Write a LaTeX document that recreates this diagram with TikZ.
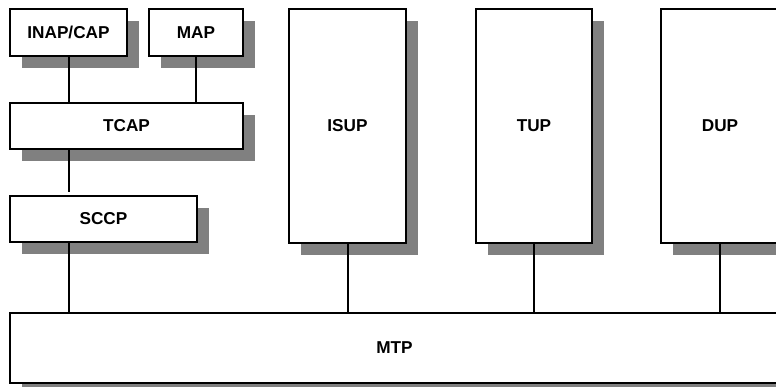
\documentclass[tikz,border=0pt]{standalone}
\usepackage{fontspec}
\setmainfont{Liberation Sans}
\usetikzlibrary{shadows}
\begin{document}
\begin{tikzpicture}[x=1pt,y=-1pt,
  layer/.style={draw=black, line width=2pt, fill=white, inner sep=0pt, outer sep=0pt,
    font=\fontsize{17.2}{20}\selectfont\bfseries,
    drop shadow={shadow xshift=12pt, shadow yshift=-12pt, fill=black!50, opacity=1}},
  link/.style={line width=2pt}]
\useasboundingbox (0,0) rectangle (776,387);
\node[layer, minimum width=769pt, minimum height=70pt] (mtp) at (394.5,348) {MTP};
\node[layer, minimum width=117pt, minimum height=47pt] (inap) at (68.5,32.5) {INAP/CAP};
\node[layer, minimum width=94pt, minimum height=47pt] (map) at (196,32.5) {MAP};
\node[layer, minimum width=233pt, minimum height=46pt] (tcap) at (126.5,126) {TCAP};
\node[layer, minimum width=187pt, minimum height=46pt] (sccp) at (103.5,219) {SCCP};
\node[layer, minimum width=117pt, minimum height=234pt] (isup) at (347.5,126) {ISUP};
\node[layer, minimum width=116pt, minimum height=234pt] (tup) at (534,126) {TUP};
\node[layer, minimum width=118pt, minimum height=234pt] (dup) at (720,126) {DUP};
\draw[link] (inap.south) -- (inap.south |- tcap.north);
\draw[link] (map.south) -- (map.south |- tcap.north);
\draw[link, shorten >=4pt] (tcap.south -| inap.south) -- (sccp.north -| inap.south);
\draw[link] (sccp.south -| inap.south) -- (mtp.north -| inap.south);
\draw[link] (isup.south) -- (isup.south |- mtp.north);
\draw[link] (tup.south) -- (tup.south |- mtp.north);
\draw[link] (dup.south) -- (dup.south |- mtp.north);
\end{tikzpicture}
\end{document}
